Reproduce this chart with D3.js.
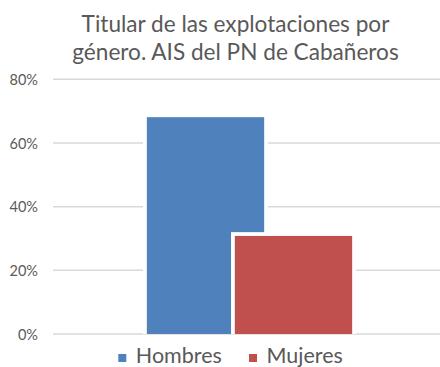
<!DOCTYPE html>
<html>
<head>
<meta charset="utf-8">
<script src="https://cdn.jsdelivr.net/npm/d3@7"></script>
<style>
  html, body { margin: 0; padding: 0; background: #fff; }
  svg { display: block; font-family: Lato, "Open Sans", sans-serif; }
</style>
</head>
<body>
<svg id="chart" width="440" height="367"></svg>
<script>
// Chart data
const titleLines = ["Titular de las explotaciones por", "género. AIS del PN de Cabañeros"];
const category = ["AIS PN Cabañeros"];
const seriesNames = ["Hombres", "Mujeres"];
const seriesValues = [68.1, 30.8];
const seriesColors = ["#4f81bd", "#c0504d"];
const yTicks = [0, 20, 40, 60, 80];

const svg = d3.select("#chart");
const W = 440, H = 367;
const plot = { left: 53, right: 446, top: 79.3, bottom: 334 };

const y = d3.scaleLinear().domain([0, 80]).range([plot.bottom, plot.top]);

// One category; both series overlap by 25% inside it
const x = d3.scaleBand().domain(category).range([plot.left, plot.right])
  .paddingInner(0).paddingOuter(0.457);
const overlap = 0.25;
const barW = x.bandwidth() / (1 + (seriesNames.length - 1) * (1 - overlap));
const barX = i => x(category[0]) + i * barW * (1 - overlap);

// Title
svg.append("g").selectAll("text").data(titleLines).join("text")
  .attr("x", 235.5).attr("y", (d, i) => 31.7 + i * 28.3)
  .attr("text-anchor", "middle")
  .attr("font-size", 22.6).attr("fill", "#595959")
  .text(d => d);

// Gridlines
svg.append("g").selectAll("line").data(yTicks).join("line")
  .attr("x1", plot.left).attr("x2", W)
  .attr("y1", d => y(d)).attr("y2", d => y(d))
  .attr("stroke", "#d9d9d9").attr("stroke-width", 1.5);

// Y axis labels
const yAxis = d3.axisLeft(y).tickValues(yTicks).tickFormat(d => d + "%").tickSize(0).tickPadding(0);
const ay = svg.append("g").attr("transform", "translate(38,0)").call(yAxis);
ay.select(".domain").remove();
ay.selectAll("text").attr("font-size", 14.5).attr("fill", "#595959")
  .attr("font-family", "Lato, 'Open Sans', sans-serif").attr("dy", "0.35em");

// Bars, each with a white border that separates overlapping bars
const bars = svg.append("g");
seriesValues.forEach((v, i) => {
  const g = bars.append("g");
  const bx = barX(i), by = y(v), bh = y(0) - y(v);
  g.append("rect").attr("x", bx - 3.8).attr("y", by - 3.8)
    .attr("width", barW + 7.6).attr("height", bh + 3.8)
    .attr("fill", "#fff");
  g.append("rect").attr("x", bx).attr("y", by)
    .attr("width", barW).attr("height", bh)
    .attr("fill", seriesColors[i]);
});

// Legend
const legendX = [118.3, 249];
const lg = svg.append("g");
seriesNames.forEach((name, i) => {
  lg.append("rect").attr("x", legendX[i]).attr("y", 354)
    .attr("width", 8).attr("height", 8).attr("fill", seriesColors[i]);
  lg.append("text").attr("x", legendX[i] + 17.5).attr("y", 363)
    .attr("font-size", 21.5).attr("fill", "#595959").text(name);
});
</script>
</body>
</html>
